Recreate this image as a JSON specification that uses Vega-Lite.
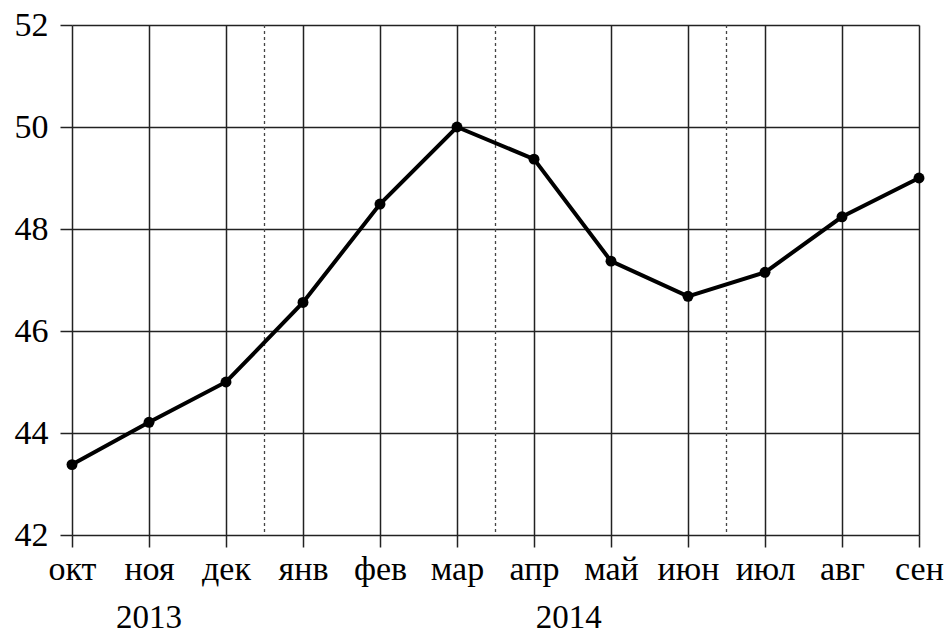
{
  "$schema": "https://vega.github.io/schema/vega-lite/v6.json",
  "width": 847,
  "height": 510,
  "autosize": {"type": "none"},
  "padding": {"left": 72, "top": 25, "right": 30, "bottom": 104},
  "background": "white",
  "config": {"view": {"stroke": null}, "font": "Liberation Serif, serif", "axis": {"labelFont": "Liberation Serif, serif"}, "text": {"font": "Liberation Serif, serif"}},
  "layer": [
    {
      "data": {"values": [{"sep": 2.5}, {"sep": 5.5}, {"sep": 8.5}]},
      "mark": {"type": "rule", "strokeDash": [3, 3], "color": "#444", "strokeWidth": 1.3},
      "encoding": {"x": {"field": "sep", "type": "quantitative"}}
    },
    {
      "data": {"values": [
        {"i": 0, "month": "окт", "value": 43.38},
        {"i": 1, "month": "ноя", "value": 44.21},
        {"i": 2, "month": "дек", "value": 45.0},
        {"i": 3, "month": "янв", "value": 46.56},
        {"i": 4, "month": "фев", "value": 48.49},
        {"i": 5, "month": "мар", "value": 50.0},
        {"i": 6, "month": "апр", "value": 49.37},
        {"i": 7, "month": "май", "value": 47.37},
        {"i": 8, "month": "июн", "value": 46.68},
        {"i": 9, "month": "июл", "value": 47.15},
        {"i": 10, "month": "авг", "value": 48.24},
        {"i": 11, "month": "сен", "value": 49.0}
      ]},
      "mark": {"type": "line", "color": "black", "strokeWidth": 4, "point": {"filled": true, "color": "black", "size": 120}},
      "encoding": {
        "x": {
          "field": "i", "type": "quantitative",
          "scale": {"domain": [0, 11], "nice": false, "zero": false},
          "axis": {
            "values": [0, 1, 2, 3, 4, 5, 6, 7, 8, 9, 10, 11],
            "labelExpr": "['окт','ноя','дек','янв','фев','мар','апр','май','июн','июл','авг','сен'][datum.value]",
            "grid": true, "gridColor": "#222", "gridWidth": 1.5,
            "domain": false, "tickColor": "#222", "tickWidth": 1.5, "tickSize": 12,
            "labelFont": "Liberation Serif, serif",
            "labelFontSize": 34, "labelColor": "black", "labelPadding": 5,
            "labelFlush": false, "labelBound": false, "labelOverlap": false,
            "title": null
          }
        },
        "y": {
          "field": "value", "type": "quantitative",
          "scale": {"domain": [42, 52], "nice": false, "zero": false},
          "axis": {
            "values": [42, 44, 46, 48, 50, 52],
            "grid": true, "gridColor": "#222", "gridWidth": 1.5,
            "domain": false, "tickColor": "#222", "tickWidth": 1.5, "tickSize": 12,
            "labelFont": "Liberation Serif, serif",
            "labelFontSize": 34, "labelColor": "black", "labelPadding": 12,
            "labelFlush": false, "labelBound": false, "labelOverlap": false,
            "title": null
          }
        }
      }
    },
    {
      "data": {"values": [{"year": "2013", "pos": 1, "lvl": 40.17}, {"year": "2014", "pos": 6.45, "lvl": 40.17}]},
      "mark": {"type": "text", "font": "Liberation Serif, serif", "fontSize": 33, "color": "black", "baseline": "alphabetic", "align": "center"},
      "encoding": {
        "x": {"field": "pos", "type": "quantitative"},
        "y": {"field": "lvl", "type": "quantitative"},
        "text": {"field": "year"}
      }
    }
  ]
}
